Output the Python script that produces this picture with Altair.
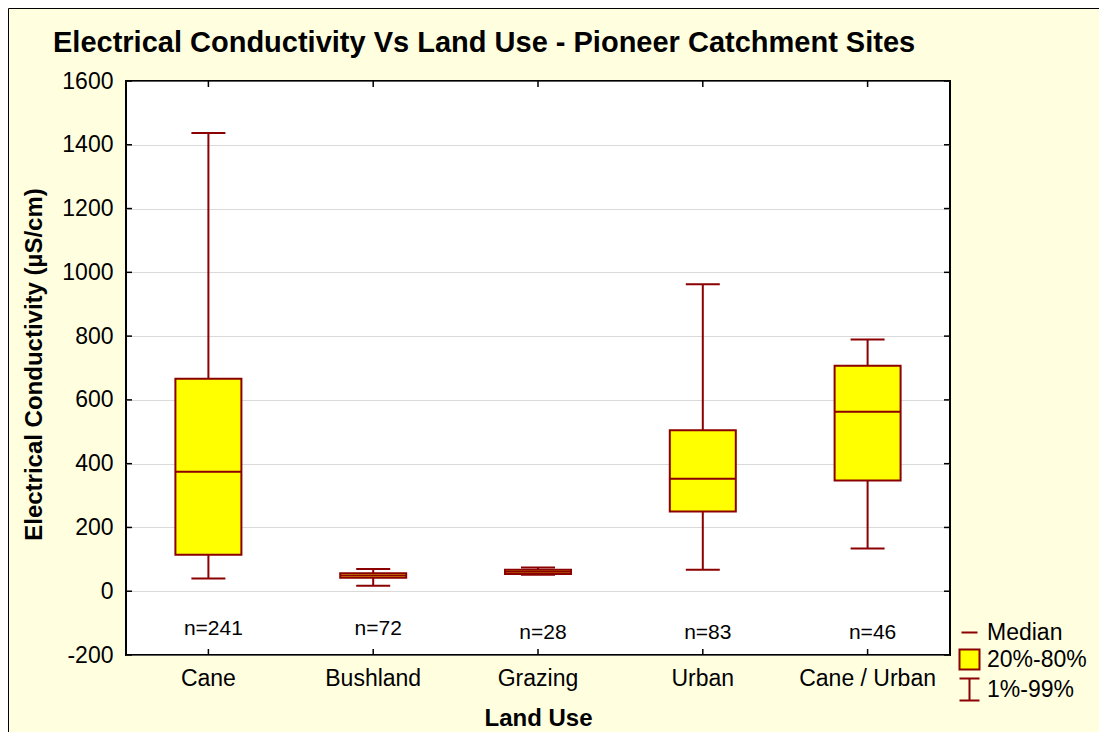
import altair as alt
import pandas as pd

# ---- data ----
categories = ["Cane", "Bushland", "Grazing", "Urban", "Cane / Urban"]
p01 = [40, 17, 52, 67, 134]
p20 = [114, 42, 54, 250, 347]
p50 = [375, 49, 61, 353, 563]
p80 = [666, 56, 67, 505, 707]
p99 = [1437, 70, 74, 963, 789]
n_counts = [241, 72, 28, 83, 46]
n_label_pos = [-137, -138, -149, -151, -151]
y_ticks = [-200, 0, 200, 400, 600, 800, 1000, 1200, 1400, 1600]
legend_items = ["Median", "20%-80%", "\u00a01%-99%"]

DARK = "#8B0000"
YELLOW = "#FFFF00"
BG = "#FFFFE0"
FONT = "Liberation Sans"
W, H = 824, 574

df = pd.DataFrame({
    "cat": categories, "p01": p01, "p20": p20, "p50": p50, "p80": p80, "p99": p99,
    "n_label": [f"n={n}" for n in n_counts], "n_y": n_label_pos,
})
tick_df = pd.DataFrame({"v": y_ticks})
leg_df = pd.DataFrame({"item": legend_items})
one = pd.DataFrame({"a": [0]})

xscale = alt.Scale(domain=categories, paddingInner=0, paddingOuter=0)
xaxis = alt.Axis(title="Land Use", labelAngle=0, ticks=False, tickSize=0, domain=False,
                 grid=False, labelFont=FONT, labelFontSize=23, labelColor="black",
                 labelPadding=12, titleFont=FONT, titleFontSize=24, titleFontWeight="bold",
                 titleColor="black", titleY=70, titleBaseline="alphabetic")
yscale = alt.Scale(domain=[-200, 1600], nice=False, zero=False)
yaxis = alt.Axis(title="Electrical Conductivity (\u00b5S/cm)", values=y_ticks, grid=True,
                 gridDash=[1, 1], gridColor="#b4b4b4", gridWidth=1, domain=False,
                 ticks=False, tickSize=0, labelFont=FONT, labelFontSize=23,
                 labelColor="black", labelPadding=13, labelExpr="'' + datum.value",
                 titleFont=FONT, titleFontSize=24,
                 titleFontWeight="bold", titleColor="black", titleX=-85, titleY=283,
                 titleBaseline="alphabetic", titleAlign="center")


def X():
    return alt.X("cat:N", sort=categories, scale=xscale, axis=xaxis)


def Y(field):
    return alt.Y(field, scale=yscale, axis=yaxis)


base = alt.Chart(df)
whisk = base.mark_rule(color=DARK, strokeWidth=2, opacity=1).encode(
    x=X(), y=Y("p01:Q"), y2="p99:Q")
cap_lo = base.mark_tick(color=DARK, size=34, thickness=2, opacity=1).encode(x=X(), y=Y("p01:Q"))
cap_hi = base.mark_tick(color=DARK, size=34, thickness=2, opacity=1).encode(x=X(), y=Y("p99:Q"))
box = base.mark_bar(size=66, fill=YELLOW, stroke=DARK, strokeWidth=2, opacity=1).encode(
    x=X(), y=Y("p20:Q"), y2="p80:Q")
med = base.mark_tick(color=DARK, size=66, thickness=2, opacity=1).encode(x=X(), y=Y("p50:Q"))
nlab = base.mark_text(font=FONT, fontSize=21, baseline="alphabetic", align="center", dx=5,
                      color="black").encode(x=X(), y=Y("n_y:Q"), text="n_label:N")

# inward axis ticks
left_ticks = alt.Chart(tick_df).mark_rule(color="black", strokeWidth=1.5).encode(
    y=Y("v:Q"), x=alt.value(0), x2=alt.value(6))
right_ticks = alt.Chart(tick_df).mark_rule(color="black", strokeWidth=1.5).encode(
    y=Y("v:Q"), x=alt.value(W - 6), x2=alt.value(W))
bottom_ticks = base.mark_rule(color="black", strokeWidth=1.5).encode(
    x=X(), y=alt.value(H - 6), y2=alt.value(H))
top_ticks = base.mark_rule(color="black", strokeWidth=1.5).encode(
    x=X(), y=alt.value(0), y2=alt.value(6))

# legend (shape + fill + stroke legends merged on the same field)
median_path = "M-0.8,0H0.8"
ibeam_path = "M-1,-1.1H1M0,-1.1V1.1M-1,1.1H1"


def leg():
    return alt.Legend(title=None, orient="none", legendX=832, legendY=540,
                      labelFont=FONT, labelFontSize=23, labelColor="black",
                      symbolSize=400, labelOffset=6, rowPadding=0, padding=0,
                      symbolStrokeWidth=2, symbolOpacity=1)


legend_layer = alt.Chart(leg_df).mark_point(
    filled=False, strokeWidth=2, size=0, opacity=1
).encode(
    x=alt.value(0), y=alt.value(0),
    shape=alt.Shape("item:N", sort=legend_items,
                    scale=alt.Scale(domain=legend_items,
                                    range=[median_path, "square", ibeam_path]),
                    legend=leg()),
    fill=alt.Fill("item:N", sort=legend_items,
                  scale=alt.Scale(domain=legend_items,
                                  range=["transparent", YELLOW, "transparent"]),
                  legend=leg()),
    stroke=alt.Stroke("item:N", sort=legend_items,
                      scale=alt.Scale(domain=legend_items, range=[DARK, DARK, DARK]),
                      legend=leg()),
)

# figure border (left and top)
border_top = alt.Chart(one).mark_rule(color="black", strokeWidth=1).encode(
    x=alt.value(-117.5), x2=alt.value(W + 150), y=alt.value(-72.5))
border_left = alt.Chart(one).mark_rule(color="black", strokeWidth=1).encode(
    x=alt.value(-117.5), y=alt.value(-72.5), y2=alt.value(H + 80))

chart = alt.layer(
    whisk, cap_lo, cap_hi, box, med, nlab,
    left_ticks, right_ticks, bottom_ticks, top_ticks,
    legend_layer, border_top, border_left,
).properties(
    width=W, height=H,
    title=alt.Title(text="Electrical Conductivity Vs Land Use - Pioneer Catchment Sites",
                    anchor="start", frame="group", font=FONT, fontSize=29,
                    fontWeight="bold", color="black", offset=0, dx=-73, dy=73,
                    baseline="alphabetic"),
    autosize=alt.AutoSizeParams(type="none"),
    padding={"left": 118, "top": 73, "right": 149, "bottom": 77},
    background=BG,
).configure_view(
    fill="white", stroke="black", strokeWidth=2
)

chart.save("out.html", embed_options={"renderer": "svg", "actions": False})
